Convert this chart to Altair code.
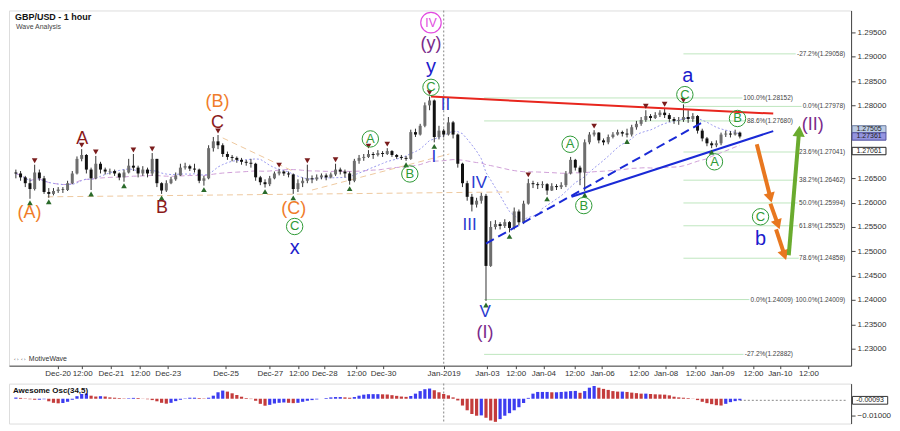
import math
import numpy as np
import pandas as pd
import altair as alt

# ---------------- data (2-hour bars, bar index = position in trading time) ----------------
open_first = 1.2662
close = [
1.2660, 1.2652, 1.2640, 1.2628, 1.2662, 1.2650, 1.2622, 1.2618, 1.2624, 1.2627,
1.2626, 1.2640, 1.2660, 1.2690, 1.2698, 1.2668, 1.2650, 1.2680, 1.2668, 1.2664,
1.2665, 1.2660, 1.2652, 1.2662, 1.2676, 1.2672, 1.2660, 1.2668, 1.2660, 1.2690,
1.2640, 1.2625, 1.2640, 1.2648, 1.2656, 1.2672, 1.2675, 1.2670, 1.2668, 1.2645,
1.2650, 1.2712, 1.2726, 1.2718, 1.2700, 1.2694, 1.2692, 1.2688, 1.2684, 1.2682,
1.2680, 1.2652, 1.2642, 1.2638, 1.2650, 1.2660, 1.2664, 1.2660, 1.2658, 1.2628,
1.2640, 1.2645, 1.2650, 1.2648, 1.2652, 1.2656, 1.2652, 1.2658, 1.2668, 1.2664,
1.2660, 1.2645, 1.2686, 1.2692, 1.2694, 1.2700, 1.2698, 1.2702, 1.2700, 1.2706,
1.2698, 1.2694, 1.2692, 1.2690, 1.2745, 1.2740, 1.2758, 1.2800, 1.2810, 1.2735,
1.2748, 1.2740, 1.2765, 1.2740, 1.2680, 1.2640, 1.2612, 1.2596, 1.2604, 1.2614,
1.2470, 1.2550, 1.2556, 1.2552, 1.2560, 1.2548, 1.2582, 1.2560, 1.2598, 1.2640,
1.2638, 1.2636, 1.2638, 1.2625, 1.2634, 1.2632, 1.2636, 1.2660, 1.2688, 1.2672,
1.2662, 1.2724, 1.2740, 1.2744, 1.2728, 1.2724, 1.2735, 1.2740, 1.2745, 1.2742,
1.2740, 1.2755, 1.2762, 1.2770, 1.2778, 1.2774, 1.2780, 1.2785, 1.2780, 1.2772,
1.2768, 1.2770, 1.2776, 1.2772, 1.2778, 1.2748, 1.2732, 1.2722, 1.2718, 1.2722,
1.2740, 1.2742, 1.2740, 1.2744, 1.2736,
]
high = [
1.2668, 1.2665, 1.2655, 1.2650, 1.2678, 1.2668, 1.2655, 1.2630, 1.2630, 1.2632,
1.2632, 1.2645, 1.2665, 1.2695, 1.2710, 1.2700, 1.2672, 1.2696, 1.2684, 1.2672,
1.2670, 1.2668, 1.2662, 1.2668, 1.2690, 1.2700, 1.2676, 1.2675, 1.2672, 1.2702,
1.2690, 1.2642, 1.2646, 1.2653, 1.2662, 1.2680, 1.2682, 1.2678, 1.2680, 1.2670,
1.2655, 1.2718, 1.2735, 1.2739, 1.2722, 1.2705, 1.2698, 1.2695, 1.2692, 1.2688,
1.2690, 1.2682, 1.2655, 1.2648, 1.2655, 1.2664, 1.2669, 1.2666, 1.2664, 1.2660,
1.2648, 1.2652, 1.2678, 1.2656, 1.2658, 1.2660, 1.2660, 1.2662, 1.2680, 1.2672,
1.2668, 1.2664, 1.2690, 1.2698, 1.2700, 1.2708, 1.2704, 1.2708, 1.2706, 1.2712,
1.2708, 1.2700, 1.2698, 1.2696, 1.2750, 1.2752, 1.2762, 1.2806, 1.2818, 1.2812,
1.2758, 1.2752, 1.2776, 1.2768, 1.2742, 1.2682, 1.2645, 1.2618, 1.2610, 1.2620,
1.2618, 1.2562, 1.2564, 1.2560, 1.2566, 1.2562, 1.2590, 1.2586, 1.2604, 1.2649,
1.2645, 1.2642, 1.2644, 1.2640, 1.2640, 1.2638, 1.2642, 1.2665, 1.2694, 1.2690,
1.2676, 1.2730, 1.2745, 1.2749, 1.2745, 1.2732, 1.2740, 1.2745, 1.2750, 1.2748,
1.2752, 1.2760, 1.2768, 1.2776, 1.2790, 1.2782, 1.2786, 1.2790, 1.2794, 1.2784,
1.2776, 1.2776, 1.2802, 1.2790, 1.2784, 1.2780, 1.2752, 1.2735, 1.2726, 1.2728,
1.2744, 1.2748, 1.2747, 1.2750, 1.2746,
]
low = [
1.2650, 1.2645, 1.2632, 1.2608, 1.2625, 1.2645, 1.2618, 1.2610, 1.2615, 1.2620,
1.2620, 1.2624, 1.2638, 1.2658, 1.2685, 1.2660, 1.2626, 1.2648, 1.2660, 1.2658,
1.2658, 1.2655, 1.2646, 1.2643, 1.2660, 1.2665, 1.2652, 1.2655, 1.2652, 1.2655,
1.2632, 1.2618, 1.2622, 1.2638, 1.2645, 1.2655, 1.2668, 1.2665, 1.2662, 1.2640,
1.2635, 1.2648, 1.2705, 1.2710, 1.2694, 1.2688, 1.2685, 1.2682, 1.2678, 1.2676,
1.2672, 1.2645, 1.2636, 1.2631, 1.2634, 1.2648, 1.2656, 1.2655, 1.2652, 1.2618,
1.2622, 1.2632, 1.2640, 1.2640, 1.2645, 1.2648, 1.2646, 1.2650, 1.2655, 1.2658,
1.2652, 1.2637, 1.2642, 1.2680, 1.2686, 1.2692, 1.2690, 1.2695, 1.2694, 1.2698,
1.2694, 1.2690, 1.2688, 1.2686, 1.2688, 1.2735, 1.2738, 1.2755, 1.2790, 1.2724,
1.2730, 1.2734, 1.2738, 1.2732, 1.2672, 1.2632, 1.2604, 1.2582, 1.2590, 1.2598,
1.2398, 1.2468, 1.2545, 1.2545, 1.2548, 1.2539, 1.2545, 1.2553, 1.2556, 1.2596,
1.2630, 1.2628, 1.2630, 1.2616, 1.2624, 1.2626, 1.2628, 1.2632, 1.2658, 1.2666,
1.2636, 1.2624, 1.2720, 1.2736, 1.2722, 1.2718, 1.2720, 1.2732, 1.2738, 1.2736,
1.2734, 1.2736, 1.2750, 1.2758, 1.2766, 1.2768, 1.2772, 1.2776, 1.2774, 1.2766,
1.2762, 1.2760, 1.2766, 1.2764, 1.2766, 1.2742, 1.2726, 1.2716, 1.2712, 1.2714,
1.2718, 1.2735, 1.2734, 1.2738, 1.2732,
]
# Awesome Oscillator (34,5), read per bar
ao = [
0.0007, 0.0005, 0.0002, -0.0003, -0.0006, -0.0006, -0.0003, -0.0015, -0.0024, -0.0027,
-0.0025, -0.0018, -0.0006, 0.0015, 0.0028, 0.0031, 0.0018, 0.0013, 0.0015, 0.0013,
0.0008, 0.0006, 0.0004, 0.0002, 0.0003, 0.0005, 0.0004, 0.0001, -0.0003, -0.0008,
-0.0015, -0.0024, -0.0029, -0.0024, -0.0014, -0.0006, 0.0002, 0.0006, 0.0006, 0.0004,
0.0002, 0.0006, 0.0018, 0.0038, 0.0048, 0.0042, 0.0032, 0.0022, 0.0012, 0.0004,
-0.0002, -0.0012, -0.0030, -0.0041, -0.0036, -0.0028, -0.0024, -0.0022, -0.0024, -0.0026,
-0.0024, -0.0018, -0.0012, -0.0008, -0.0004, 0.0000, 0.0004, 0.0008, 0.0010, 0.0010,
0.0008, 0.0006, 0.0010, 0.0018, 0.0024, 0.0027, 0.0027, 0.0027, 0.0026, 0.0025,
0.0021, 0.0017, 0.0013, 0.0011, 0.0016, 0.0030, 0.0045, 0.0056, 0.0060, 0.0050,
0.0038, 0.0028, 0.0020, 0.0008, -0.0010, -0.0040, -0.0068, -0.0090, -0.0100, -0.0098,
-0.0112, -0.0128, -0.0136, -0.0120, -0.0100, -0.0085, -0.0068, -0.0050, -0.0025, 0.0005,
0.0030, 0.0040, 0.0040, 0.0040, 0.0038, 0.0038, 0.0040, 0.0042, 0.0045, 0.0046,
0.0035, 0.0045, 0.0065, 0.0075, 0.0065, 0.0058, 0.0052, 0.0045, 0.0042, 0.0042,
0.0040, 0.0036, 0.0033, 0.0030, 0.0030, 0.0028, 0.0026, 0.0025, 0.0024, 0.0020,
0.0012, 0.0008, 0.0006, 0.0004, 0.0001, -0.0008, -0.0018, -0.0026, -0.0032, -0.0038,
-0.0040, -0.0030, -0.0020, -0.0014, -0.00093,
]

tick_pos = [8.9, 14.1, 20.2, 26.4, 32.3, 44.6, 54.0, 60.1, 65.6, 72.4, 78.1, 91.0,
            100.2, 106.3, 112.2, 118.8, 124.7, 132.5, 138.2, 144.5, 150.2, 156.8, 162.5, 168.6]
tick_labels = ['Dec-20', '12:00', 'Dec-21', '12:00', 'Dec-23', 'Dec-25', 'Dec-27', '12:00',
               'Dec-28', '12:00', 'Dec-30', 'Jan-2019', 'Jan-03', '12:00', 'Jan-04', '12:00',
               'Jan-06', '12:00', 'Jan-08', '12:00', 'Jan-09', '12:00', 'Jan-10', '12:00']
# 1.27000 and 1.27500 sit under the price tags, as in the original
price_ticks = [1.230, 1.235, 1.240, 1.245, 1.250, 1.255, 1.260, 1.265,
               1.280, 1.285, 1.290, 1.295]
year_break = [91.0]

# swing markers
sh_i = [4, 14, 17, 25, 29, 43, 56, 62, 68, 75, 79, 88, 109, 123, 134, 138, 142]
sh_p = [1.2678, 1.2710, 1.2696, 1.2700, 1.2702, 1.2739, 1.2669, 1.2678, 1.2680, 1.2708,
        1.2712, 1.2818, 1.2649, 1.2749, 1.2790, 1.2794, 1.2802]
sl_i = [3, 7, 16, 23, 31, 40, 53, 59, 71, 83, 89, 100, 105, 113, 121, 130, 148]
sl_p = [1.2608, 1.2610, 1.2626, 1.2643, 1.2618, 1.2635, 1.2631, 1.2618, 1.2637, 1.2686,
        1.2724, 1.2398, 1.2539, 1.2616, 1.2624, 1.2734, 1.2712]

# Fibonacci tools
fib1_p = [1.28152, 1.27680, 1.24009, 1.22882]
fib1_lbl = ['100.0%(1.28152)', '88.6%(1.27680)', '0.0%(1.24009)', '-27.2%(1.22882)']
fib1_x = [99.6, 165.3]
fib2_p = [1.29058, 1.27978, 1.27041, 1.26462, 1.25994, 1.25525, 1.24858, 1.24009]
fib2_lbl = ['-27.2%(1.29058)', '0.0%(1.27978)', '23.6%(1.27041)', '38.2%(1.26462)',
            '50.0%(1.25994)', '61.8%(1.25525)', '78.6%(1.24858)', '100.0%(1.24009)']
fib2_x = [142.0, 176.4]

# trend lines
red_x, red_p = [88.3, 161.1], [1.2818, 1.2783]
blue_x, blue_p = [118.2, 161.1], [1.2612, 1.2747]
bdash_x, bdash_p = [100.0, 146.4], [1.2516, 1.2767]
tan_seg = [0, 0, 1, 1, 2, 2]
tan_x = [6.7, 104.9, 44.0, 58.9, 63.0, 92.2]
tan_p = [1.2612, 1.2622, 1.2733, 1.2665, 1.2626, 1.2700]

# projected path arrows
orange_x1, orange_p1 = [157.6, 160.5, 161.7], [1.2720, 1.2598, 1.2545]
orange_x2, orange_p2 = [160.5, 162.1, 163.5], [1.2610, 1.2555, 1.2492]
green_x, green_p = [164.4, 166.6], [1.2492, 1.2747]

# wave labels
wave_text = ['(A)', 'A', 'B', 'C', '(B)', '(C)', 'C', 'x', 'A', 'B',
             'C', 'y', '(y)', 'IV', 'II', 'I', 'III', 'IV', 'V', '(I)',
             'A', 'B', 'a', 'C', 'A', 'B', '(II)', 'C', 'b']
wave_x = [2.9, 14.1, 31.1, 42.9, 42.9, 59.1, 59.3, 59.3, 75.4, 83.8,
          88.3, 88.3, 88.3, 88.3, 91.4, 88.9, 96.5, 98.5, 99.8, 99.8,
          117.9, 120.8, 142.9, 142.3, 148.6, 153.5, 169.5, 158.4, 158.4]
wave_p = [1.2579, 1.2731, 1.2590, 1.2763, 1.2806, 1.2586, 1.2551, 1.2506, 1.2731, 1.2659,
          1.2837, 1.2878, 1.2926, 1.2970, 1.2800, 1.2694, 1.2555, 1.2641, 1.2375, 1.2332,
          1.2720, 1.2594, 1.2861, 1.2822, 1.2684, 1.2773, 1.2759, 1.2571, 1.2526]
wave_deg = ['paren', 'primary', 'primary', 'primary', 'paren', 'paren', 'minor', 'minute', 'minor', 'minor',
            'minor', 'minute', 'inter', 'cycle', 'sub', 'sub', 'sub', 'sub', 'sub', 'inter',
            'minor', 'minor', 'minute', 'minor', 'minor', 'minor', 'inter', 'minor', 'minute']

tag_p = [1.27505, 1.27361, 1.27061]
tag_kind = ['ask', 'last', 'ref']

# ---------------- styles / layout ----------------
W, H, OH = 844, 356, 40
XMIN, XMAX = -0.4, 176.6
PMIN, PMAX = 1.2265, 1.2995
FONT = 'Liberation Sans'
FIBFS = 6.5

deg_color = {'paren': '#f07c2a', 'primary': '#8b1a1a', 'minor': '#2e9a36', 'minute': '#1c1ccc',
             'sub': '#2a3ad0', 'inter': '#7a2a8a', 'cycle': '#e24be0'}
deg_size = {'paren': 18, 'primary': 18, 'minor': 13, 'minute': 20, 'sub': 17, 'inter': 18, 'cycle': 12}

xs = alt.Scale(domain=[XMIN, XMAX], nice=False, zero=False)
ys = alt.Scale(domain=[PMIN, PMAX], nice=False, zero=False)

label_expr = ('[' + ','.join(repr(t) for t in tick_labels) + '][indexof(['
              + ','.join(str(p) for p in tick_pos) + '], datum.value)]')
xaxis = alt.Axis(values=tick_pos, labelExpr=label_expr, tickSize=3, labelFontSize=8, labelPadding=1,
                 domainColor='#444', tickColor='#444', labelColor='#333', grid=False,
                 labelOverlap=False, labelFlush=False, title=None, labelFont=FONT)
yaxis = alt.Axis(orient='right', values=price_ticks, format='.5f', tickSize=4, labelFontSize=8,
                 labelPadding=2, grid=False, domainColor='#444', tickColor='#444',
                 labelColor='#333', title=None, labelFont=FONT)


def X(f):
    return alt.X(f, type='quantitative', scale=xs, axis=xaxis, title=None)


def Y(f):
    return alt.Y(f, type='quantitative', scale=ys, axis=yaxis, title=None)


# ---------------- frames ----------------
n = len(close)
opens = [open_first] + close[:-1]
df = pd.DataFrame({'i': list(range(n)), 'open': opens, 'close': close, 'high': high, 'low': low})
df['high'] = df[['high', 'open', 'close']].max(axis=1)
df['low'] = df[['low', 'open', 'close']].min(axis=1)
df['dir'] = np.where(df['close'] >= df['open'], 'up', 'down')

fib_df = pd.concat([
    pd.DataFrame({'p': fib1_p, 'lbl': fib1_lbl, 'x1': fib1_x[0], 'x2': fib1_x[1]}),
    pd.DataFrame({'p': fib2_p, 'lbl': fib2_lbl, 'x1': fib2_x[0], 'x2': fib2_x[1]}),
], ignore_index=True)

wave_df = pd.DataFrame({'t': wave_text, 'x': wave_x, 'p': wave_p, 'deg': wave_deg})
wave_df['col'] = wave_df['deg'].map(deg_color)
wave_df['fs'] = wave_df['deg'].map(deg_size)

# arrow heads: orientation follows the segment direction on screen
pxi = W / (XMAX - XMIN)
pxp = H / (PMAX - PMIN)
oa = pd.DataFrame({'x1': orange_x1, 'p1': orange_p1, 'x2': orange_x2, 'p2': orange_p2})
oa['ang'] = [math.degrees(math.atan2(-(b - a) * pxi, (c - d) * pxp)) % 360
             for a, b, c, d in zip(orange_x1, orange_x2, orange_p1, orange_p2)]
ga = pd.DataFrame({'x1': [green_x[0]], 'p1': [green_p[0]], 'x2': [green_x[1]], 'p2': [green_p[1]]})
ga['ang'] = [math.degrees(math.atan2((green_x[1] - green_x[0]) * pxi,
                                     (green_p[1] - green_p[0]) * pxp)) % 360]

# ---------------- main panel ----------------
fib_lines = alt.Chart(fib_df).mark_rule(color='#bfe6bf', strokeWidth=1).encode(
    x=X('x1'), x2='x2', y=Y('p'))
fib_halo = alt.Chart(fib_df).mark_text(align='right', baseline='middle', fontSize=FIBFS, font=FONT,
                                       color='white', stroke='white', strokeWidth=3).encode(
    x=X('x2'), y=Y('p'), text='lbl')
fib_text = alt.Chart(fib_df).mark_text(align='right', baseline='middle', fontSize=FIBFS, font=FONT,
                                       color='#444').encode(x=X('x2'), y=Y('p'), text='lbl')

tan = alt.Chart(pd.DataFrame({'s': tan_seg, 'x': tan_x, 'p': tan_p})).mark_line(
    color='#eec9a0', strokeDash=[6, 4], strokeWidth=1).encode(x=X('x'), y=Y('p'), detail='s:N')

ma_fast = alt.Chart(df).transform_window(ma='mean(close)', frame=[-11, 0], sort=[{'field': 'i'}]).mark_line(
    color='#9a9aee', strokeDash=[2, 2], strokeWidth=1).encode(x=X('i'), y=Y('ma'))
ma_slow = alt.Chart(df).transform_window(ma='mean(close)', frame=[-47, 0], sort=[{'field': 'i'}]).mark_line(
    color='#d0a0d8', strokeDash=[5, 3], strokeWidth=1).encode(x=X('i'), y=Y('ma'))

divider = alt.Chart(pd.DataFrame({'x': year_break})).mark_rule(
    color='#999', strokeDash=[2, 2], strokeWidth=1.2).encode(x=X('x'))

wicks = alt.Chart(df).mark_rule(color='#333', strokeWidth=1).encode(x=X('i'), y=Y('low'), y2='high')
bodies_up = alt.Chart(df).transform_filter(alt.datum.dir == 'up').mark_bar(
    size=3, color='#6e6e6e').encode(x=X('i'), y=Y('open'), y2='close')
bodies_dn = alt.Chart(df).transform_filter(alt.datum.dir == 'down').mark_bar(
    size=3, color='#111111').encode(x=X('i'), y=Y('open'), y2='close')

red = alt.Chart(pd.DataFrame({'x': red_x, 'p': red_p})).mark_line(
    color='#e8261e', strokeWidth=2).encode(x=X('x'), y=Y('p'))
blue = alt.Chart(pd.DataFrame({'x': blue_x, 'p': blue_p})).mark_line(
    color='#1a2ad6', strokeWidth=2).encode(x=X('x'), y=Y('p'))
bdash = alt.Chart(pd.DataFrame({'x': bdash_x, 'p': bdash_p})).mark_line(
    color='#1a2ad6', strokeWidth=2, strokeDash=[9, 5]).encode(x=X('x'), y=Y('p'))

sh = alt.Chart(pd.DataFrame({'x': sh_i, 'p': sh_p})).mark_point(
    shape='triangle-down', filled=True, size=32, color='#7a1c1c', opacity=1, yOffset=-4).encode(
    x=X('x'), y=Y('p'))
sl = alt.Chart(pd.DataFrame({'x': sl_i, 'p': sl_p})).mark_point(
    shape='triangle-up', filled=True, size=32, color='#2a6a2a', opacity=1, yOffset=4).encode(
    x=X('x'), y=Y('p'))

o_shaft = alt.Chart(oa).mark_rule(color='#e8771f', strokeWidth=4).encode(
    x=X('x1'), y=Y('p1'), x2='x2', y2='p2')
o_head = alt.Chart(oa).mark_point(shape='triangle-down', filled=True, size=130, color='#e8771f',
                                  opacity=1).encode(x=X('x2'), y=Y('p2'), angle=alt.Angle('ang:Q', scale=None))
g_shaft = alt.Chart(ga).mark_rule(color='#6aab2e', strokeWidth=4).encode(
    x=X('x1'), y=Y('p1'), x2='x2', y2='p2')
g_head = alt.Chart(ga).mark_point(shape='triangle-up', filled=True, size=150, color='#6aab2e',
                                  opacity=1).encode(x=X('x2'), y=Y('p2'), angle=alt.Angle('ang:Q', scale=None))

circ_minor = alt.Chart(wave_df).transform_filter(alt.datum.deg == 'minor').mark_point(
    shape='circle', size=270, filled=False, strokeWidth=1, color='#2e9a36', opacity=1).encode(
    x=X('x'), y=Y('p'))
circ_cycle = alt.Chart(wave_df).transform_filter(alt.datum.deg == 'cycle').mark_point(
    shape='circle', size=420, filled=False, strokeWidth=1.2, color='#e24be0', opacity=1).encode(
    x=X('x'), y=Y('p'))
waves = alt.Chart(wave_df).mark_text(align='center', baseline='middle', font=FONT).encode(
    x=X('x'), y=Y('p'), text='t',
    color=alt.Color('col:N', scale=None), size=alt.Size('fs:Q', scale=None))

tag_df = pd.DataFrame({'p': tag_p, 'kind': tag_kind})
tag_df['txt'] = [f'{v:.5f}' for v in tag_p]
rect_path = 'M-1,-0.22L1,-0.22L1,0.22L-1,0.22Z'
tag_box = alt.Chart(tag_df).mark_point(shape=rect_path, size=1150, filled=True, opacity=1,
                                       strokeWidth=1).encode(
    x=alt.value(W + 18), y=Y('p'),
    fill=alt.Fill('kind:N', scale=alt.Scale(domain=['ask', 'last', 'ref'],
                                            range=['#bccbe4', '#9494e0', '#ffffff']), legend=None),
    stroke=alt.Stroke('kind:N', scale=alt.Scale(domain=['ask', 'last', 'ref'],
                                                range=['#6a7aa0', '#5050a0', '#222222']), legend=None))
tag_txt = alt.Chart(tag_df).mark_text(fontSize=7, font=FONT, color='#222').encode(
    x=alt.value(W + 18), y=Y('p'), text='txt')

title1 = alt.Chart(pd.DataFrame({'t': ['GBP/USD - 1 hour']})).mark_text(
    align='left', baseline='middle', fontSize=9, fontWeight='bold', font=FONT, color='#111').encode(
    x=alt.value(6), y=alt.value(7), text='t')
title2 = alt.Chart(pd.DataFrame({'t': ['Wave Analysis']})).mark_text(
    align='left', baseline='middle', fontSize=7, font=FONT, color='#444').encode(
    x=alt.value(7), y=alt.value(17), text='t')
brand = alt.Chart(pd.DataFrame({'t': ['⇔⇔ MotiveWave']})).mark_text(
    align='left', baseline='middle', fontSize=7, font=FONT, color='#333').encode(
    x=alt.value(4), y=alt.value(H - 7), text='t')

main = alt.layer(
    fib_lines, tan, ma_slow, ma_fast, divider, wicks, bodies_up, bodies_dn, red, bdash, blue, sh, sl,
    fib_halo, fib_text, o_shaft, o_head, g_shaft, g_head, circ_minor, circ_cycle, waves,
    tag_box, tag_txt, title1, title2, brand,
).properties(width=W, height=H)

# ---------------- oscillator panel ----------------
odf = pd.DataFrame({'i': list(range(len(ao))), 'ao': ao})
odf['dir'] = ['up'] + ['up' if ao[k] >= ao[k - 1] else 'down' for k in range(1, len(ao))]
oxs = lambda f: alt.X(f, type='quantitative', scale=xs, axis=None, title=None)
oys = alt.Scale(domain=[-0.0146, 0.0089], nice=False, zero=False)
oaxis = alt.Axis(orient='right', values=[-0.01], format='.5f', tickSize=4, labelFontSize=8,
                 labelPadding=2, grid=False, domainColor='#444', tickColor='#444',
                 labelColor='#333', title=None, labelFont=FONT)
OY = lambda f: alt.Y(f, type='quantitative', scale=oys, axis=oaxis, title=None)

ao_up = alt.Chart(odf).transform_filter(alt.datum.dir == 'up').mark_bar(
    size=3.2, color='#3c3cf0').encode(x=oxs('i'), y=OY('ao'), y2=alt.datum(0))
ao_dn = alt.Chart(odf).transform_filter(alt.datum.dir == 'down').mark_bar(
    size=3.2, color='#c43c3c').encode(x=oxs('i'), y=OY('ao'), y2=alt.datum(0))
last_df = pd.DataFrame({'i': [len(ao) - 1], 'xe': [XMAX], 'ao': [ao[-1]]})
last_df['txt'] = [f'{ao[-1]:.5f}']
ao_last = alt.Chart(last_df).mark_rule(color='#888', strokeDash=[2, 2]).encode(
    x=oxs('i'), x2='xe', y=OY('ao'))
ao_div = alt.Chart(pd.DataFrame({'x': year_break})).mark_rule(
    color='#999', strokeDash=[2, 2], strokeWidth=1.2).encode(x=oxs('x'))
ao_box = alt.Chart(last_df).mark_point(shape=rect_path, size=1250, filled=True, opacity=1,
                                       fill='white', stroke='#333', strokeWidth=1).encode(
    x=alt.value(W + 19), y=OY('ao'))
ao_tag = alt.Chart(last_df).mark_text(fontSize=7, font=FONT, color='#222').encode(
    x=alt.value(W + 19), y=OY('ao'), text='txt')
ao_title = alt.Chart(pd.DataFrame({'t': ['Awesome Osc(34,5)']})).mark_text(
    align='left', baseline='middle', fontSize=8, fontWeight='bold', font=FONT, color='#111').encode(
    x=alt.value(4), y=alt.value(7), text='t')

osc = alt.layer(ao_div, ao_last, ao_up, ao_dn, ao_box, ao_tag, ao_title).properties(width=W, height=OH)

chart = alt.vconcat(main, osc, spacing=3).properties(padding=0).configure_view(
    stroke='#555', strokeWidth=1).configure(font=FONT)

chart.save('out.html', embed_options={'renderer': 'svg', 'actions': False})
